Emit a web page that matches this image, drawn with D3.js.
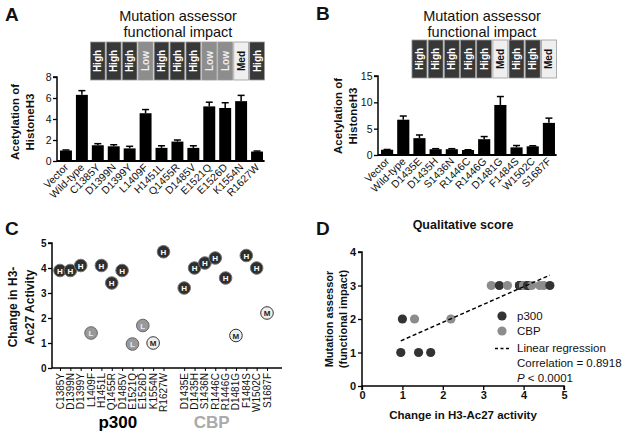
<!DOCTYPE html>
<html><head><meta charset="utf-8">
<script src="https://cdn.jsdelivr.net/npm/d3@7"></script>
<style>html,body{margin:0;padding:0;background:#fff}svg{display:block;font-family:"Liberation Sans",Arial,sans-serif}</style>
</head><body>
<svg id="c" width="626" height="438"></svg>
<script>
// ---------- DATA ----------
const catsA = ["Vector","Wild-type","C1385Y","D1399N","D1399Y","L1409F","H1451L","Q1455R","D1485V","E1521Q","E1526D","K1554N","R1627W"];
const valsA = [1.0,6.3,1.5,1.4,1.2,4.55,1.25,1.85,1.25,5.2,5.05,5.7,0.9];
const errA  = [0.05,0.4,0.15,0.15,0.2,0.35,0.2,0.15,0.2,0.4,0.5,0.55,0.05];
const impactA = ["High","High","High","Low","High","High","High","Low","Low","Med","High"];
const ticksA = [0,2,4,6,8];

const catsB = ["Vector","Wild-type","D1435E","D1435H","S1436N","R1446C","R1446G","D1481G","F1484S","W1502C","S1687F"];
const valsB = [1.0,6.7,3.2,1.1,1.1,0.95,3.0,9.5,1.45,1.65,6.1];
const errB  = [0.05,0.7,0.6,0.1,0.1,0.05,0.5,1.6,0.35,0.1,0.9];
const impactB = ["High","High","High","High","High","Med","High","High","Med"];
const ticksB = [0,5,10,15];

const catsP300 = ["C1385Y","D1399N","D1399Y","L1409F","H1451L","Q1455R","D1485V","E1521Q","E1526D","K1554N","R1627W"];
const changeP300 = [3.9,3.9,4.1,1.4,4.1,3.4,3.9,0.96,1.7,1.0,4.65];
const scoreP300 = ["H","H","H","L","H","H","H","L","L","M","H"];
const catsCBP = ["D1435E","D1435H","S1436N","R1446C","R1446G","D1481G","F1484S","W1502C","S1687F"];
const changeCBP = [3.2,4.0,4.2,4.4,3.6,1.3,4.5,4.0,2.2];
const scoreCBP = ["H","H","H","H","H","M","H","H","M"];
const ticksC = [0,1,2,3,4,5];
const scoreValue = {L:1, M:2, H:3};
const ticksDx = [0,1,2,3,4,5];
const ticksDy = [0,1,2,3,4];

// ---------- DRAW ----------
const svg = d3.select("#c");
const INK = "#111";
const fmt = d3.format("d");
const boxFill = {High:"#383838", Low:"#8d8d8d", Med:"#efefef"};
const boxText = {High:"#fff", Low:"#eee", Med:"#111"};

function panelLetter(t,x,y){
  svg.append("text").attr("x",x).attr("y",y).attr("font-size",19).attr("font-weight","bold").attr("fill",INK).text(t);
}
function rotLabel(lines,x0,dx,cy,size,weight){
  lines.forEach((l,i)=>{
    svg.append("text").attr("transform",`translate(${x0+i*dx},${cy}) rotate(-90)`)
      .attr("text-anchor","middle").attr("font-size",size).attr("font-weight",weight||"bold").attr("fill",INK).text(l);
  });
}
function styleTicks(a,size,weight){
  a.selectAll(".tick line").attr("stroke","#000").attr("stroke-width",1.3);
  a.selectAll(".tick text").attr("font-size",size).attr("font-weight",weight||"normal").attr("fill",INK).attr("font-family","Liberation Sans, Arial");
}

function barPanel(o){
  const x = d3.scaleBand().domain(o.cats).range(o.xr).paddingInner(0.25).paddingOuter(0.1);
  const y = d3.scaleLinear().domain(o.yd).range(o.yr);
  const g = svg.append("g");
  g.selectAll("rect.bar").data(o.vals).join("rect")
    .attr("x",(d,i)=>x(o.cats[i])).attr("width",x.bandwidth())
    .attr("y",d=>y(d)).attr("height",d=>y(0)-y(d)).attr("fill","#000");
  o.vals.forEach((v,i)=>{
    const cx = x(o.cats[i])+x.bandwidth()/2, top=y(v+o.err[i]);
    g.append("line").attr("x1",cx).attr("x2",cx).attr("y1",y(v)).attr("y2",top).attr("stroke","#000").attr("stroke-width",1.5);
    g.append("line").attr("x1",cx-3.5).attr("x2",cx+3.5).attr("y1",top).attr("y2",top).attr("stroke","#000").attr("stroke-width",1.5);
  });
  const ya = g.append("g").attr("transform",`translate(${o.axX},0)`)
    .call(d3.axisLeft(y).tickValues(o.ticks).tickFormat(fmt).tickSize(4).tickPadding(1.5));
  ya.select(".domain").attr("stroke","#000").attr("stroke-width",1.5).attr("d",`M-4,${y(o.yd[1])}H0V${y(0)}`);
  styleTicks(ya,10.5);
  g.append("line").attr("x1",o.axX).attr("x2",o.xr[1]).attr("y1",y(0)).attr("y2",y(0)).attr("stroke","#000").attr("stroke-width",1.8);
  g.selectAll("text.xl").data(o.cats).join("text")
    .attr("transform",d=>`translate(${x(d)+x.bandwidth()/2+3},${y(0)+7}) rotate(-45)`)
    .attr("text-anchor","end").attr("font-size",10.5).attr("fill",INK).text(d=>d);
  const mut = o.cats.slice(2);
  const step = x.step();
  mut.forEach((c,i)=>{
    const cx = x(c)+x.bandwidth()/2;
    const imp = o.impact[i];
    g.append("rect").attr("x",cx-step/2+0.6).attr("width",step-1.2).attr("y",o.boxY).attr("height",o.boxH)
      .attr("fill",boxFill[imp]).attr("stroke","#9a9a9a").attr("stroke-width",0.8);
    g.append("text").attr("transform",`translate(${cx+3.5},${o.boxY+o.boxH/2}) rotate(-90)`)
      .attr("text-anchor","middle").attr("font-size",10).attr("font-weight","bold").attr("fill",boxText[imp]).text(imp);
  });
  g.append("text").attr("x",o.titleX).attr("y",21).attr("text-anchor","middle").attr("font-size",14.5).attr("fill",INK).text("Mutation assessor");
  g.append("text").attr("x",o.titleX).attr("y",36.5).attr("text-anchor","middle").attr("font-size",14.5).attr("fill",INK).text("functional impact");
}

// Panel A
panelLetter("A",5,21);
barPanel({cats:catsA, vals:valsA, err:errA, impact:impactA, ticks:ticksA, xr:[58.4,264.6], yd:[0,8], yr:[161,77], axX:57, boxY:42, boxH:38, titleX:178});
rotLabel(["Acetylation of","HistoneH3"],18.5,15,122,11.5);

// Panel B
panelLetter("B",316,20);
barPanel({cats:catsB, vals:valsB, err:errB, impact:impactB, ticks:ticksB, xr:[379.4,556.6], yd:[0,15], yr:[155,76], axX:378, boxY:40, boxH:38, titleX:482});
rotLabel(["Acetylation of","HistoneH3"],342,15,116,11.5);

// Panel C
panelLetter("C",5,235);
(function(){
  const dom = [...catsP300, "__gap", ...catsCBP];
  const x = d3.scalePoint().domain(dom).range([60,267]);
  const y = d3.scaleLinear().domain([0,5]).range([368,243]);
  const g = svg.append("g");
  const ya = g.append("g").attr("transform","translate(52,0)").call(d3.axisLeft(y).tickValues(ticksC).tickFormat(fmt).tickSize(4).tickPadding(1.5));
  ya.select(".domain").attr("stroke","#000").attr("stroke-width",1.5).attr("d",`M-4,${y(5)}H0V${y(0)}`);
  styleTicks(ya,10,"bold");
  const xa = g.append("g").attr("transform",`translate(0,${y(0)})`)
    .call(d3.axisBottom(x).tickValues(dom.filter(d=>d!=="__gap")).tickSize(3).tickFormat(""));
  xa.select(".domain").attr("stroke","#000").attr("stroke-width",1.5).attr("d","M52,0H282");
  xa.selectAll(".tick line").attr("stroke","#000").attr("stroke-width",1);
  g.selectAll("text.xl").data(dom.filter(d=>d!=="__gap")).join("text")
    .attr("transform",d=>`translate(${x(d)+3.5},${y(0)+5}) rotate(-90)`)
    .attr("text-anchor","end").attr("font-size",10).attr("fill",INK).text(d=>d);
  const fill = {H:"#2e2e2e", L:"#999", M:"#eeeeee"};
  const stroke = {H:"#777", L:"#666", M:"#333"};
  const tcol = {H:"#fff", L:"#eee", M:"#222"};
  const pts = [...catsP300.map((c,i)=>({c,v:changeP300[i],s:scoreP300[i]})), ...catsCBP.map((c,i)=>({c,v:changeCBP[i],s:scoreCBP[i]}))];
  pts.forEach(p=>{
    g.append("circle").attr("cx",x(p.c)).attr("cy",y(p.v)).attr("r",6.3).attr("fill",fill[p.s]).attr("stroke",stroke[p.s]).attr("stroke-width",1);
    g.append("text").attr("x",x(p.c)).attr("y",y(p.v)+3).attr("text-anchor","middle").attr("font-size",8).attr("font-weight","bold").attr("fill",tcol[p.s]).text(p.s);
  });
  const mid1 = (x(catsP300[0])+x(catsP300[catsP300.length-1]))/2;
  const mid2 = (x(catsCBP[0])+x(catsCBP[catsCBP.length-1]))/2;
  g.append("text").attr("x",mid1+6).attr("y",428).attr("text-anchor","middle").attr("font-size",17).attr("font-weight","bold").attr("fill","#000").text("p300");
  g.append("text").attr("x",mid2-14).attr("y",428).attr("text-anchor","middle").attr("font-size",17).attr("font-weight","bold").attr("fill","#aaaaaa").text("CBP");
})();
rotLabel(["Change in H3-","Ac27 Activity"],17,17,307,12);

// Panel D
panelLetter("D",316,235);
(function(){
  const x = d3.scaleLinear().domain([0,5]).range([362,564]);
  const y = d3.scaleLinear().domain([0,4]).range([386,252]);
  const g = svg.append("g");
  svg.append("text").attr("x",463).attr("y",229).attr("text-anchor","middle").attr("font-size",12.5).attr("font-weight","bold").attr("fill",INK).text("Qualitative score");
  const ya = g.append("g").attr("transform","translate(362,0)").call(d3.axisLeft(y).tickValues(ticksDy).tickFormat(fmt).tickSize(4).tickPadding(2));
  const xa = g.append("g").attr("transform","translate(0,386)").call(d3.axisBottom(x).tickValues(ticksDx).tickFormat(fmt).tickSize(4).tickPadding(1));
  [ya,xa].forEach(a=>{
    a.select(".domain").attr("stroke","#000").attr("stroke-width",1.5);
    styleTicks(a,11,"bold");
  });
  ya.select(".domain").attr("d",`M-4,${y(4)}H0V${y(0)}`);
  xa.select(".domain").attr("d",`M${x(0)},4V0H${x(5)}V4`);
  const p300 = changeP300.map((v,i)=>({x:v,y:scoreValue[scoreP300[i]],g:"p300"}));
  const cbp = changeCBP.map((v,i)=>({x:v,y:scoreValue[scoreCBP[i]],g:"CBP"}));
  const all = [...p300,...cbp];
  const mx = d3.mean(all,d=>d.x), my = d3.mean(all,d=>d.y);
  const slope = d3.sum(all,d=>(d.x-mx)*(d.y-my))/d3.sum(all,d=>(d.x-mx)**2);
  const icpt = my - slope*mx;
  const [x0,x1] = d3.extent(all,d=>d.x);
  const col = {p300:"#333333", CBP:"#8c8c8c"};
  const order = [...all].sort((a,b)=>a.x-b.x);
  order.forEach(d=>{
    g.append("circle").attr("cx",x(d.x)).attr("cy",y(d.y)).attr("r",4.6).attr("fill",col[d.g]);
  });
  g.append("line").attr("x1",x(x0)).attr("y1",y(icpt+slope*x0)).attr("x2",x(x1)).attr("y2",y(icpt+slope*x1))
    .attr("stroke","#000").attr("stroke-width",1.4).attr("stroke-dasharray","4,2.5");
  g.append("circle").attr("cx",502).attr("cy",316).attr("r",4.6).attr("fill",col.p300);
  g.append("text").attr("x",517).attr("y",320).attr("font-size",11.5).attr("fill",INK).text("p300");
  g.append("circle").attr("cx",502).attr("cy",331).attr("r",4.6).attr("fill",col.CBP);
  g.append("text").attr("x",517).attr("y",335).attr("font-size",11.5).attr("fill",INK).text("CBP");
  g.append("line").attr("x1",495).attr("x2",510).attr("y1",348.5).attr("y2",348.5).attr("stroke","#000").attr("stroke-width",1.4).attr("stroke-dasharray","3,2.5");
  g.append("text").attr("x",517).attr("y",352).attr("font-size",11.5).attr("fill",INK).text("Linear regression");
  g.append("text").attr("x",517).attr("y",367).attr("font-size",11.5).attr("fill",INK).text("Correlation = 0.8918");
  const pt = g.append("text").attr("x",517).attr("y",382).attr("font-size",11.5).attr("fill",INK);
  pt.append("tspan").attr("font-style","italic").text("P");
  pt.append("tspan").text(" < 0.0001");
  svg.append("text").attr("x",463).attr("y",419).attr("text-anchor","middle").attr("font-size",11.5).attr("font-weight","bold").attr("fill",INK).text("Change in H3-Ac27 activity");
})();
rotLabel(["Mutation assessor","(functional impact)"],333,14,319,11);
</script>
</body></html>
